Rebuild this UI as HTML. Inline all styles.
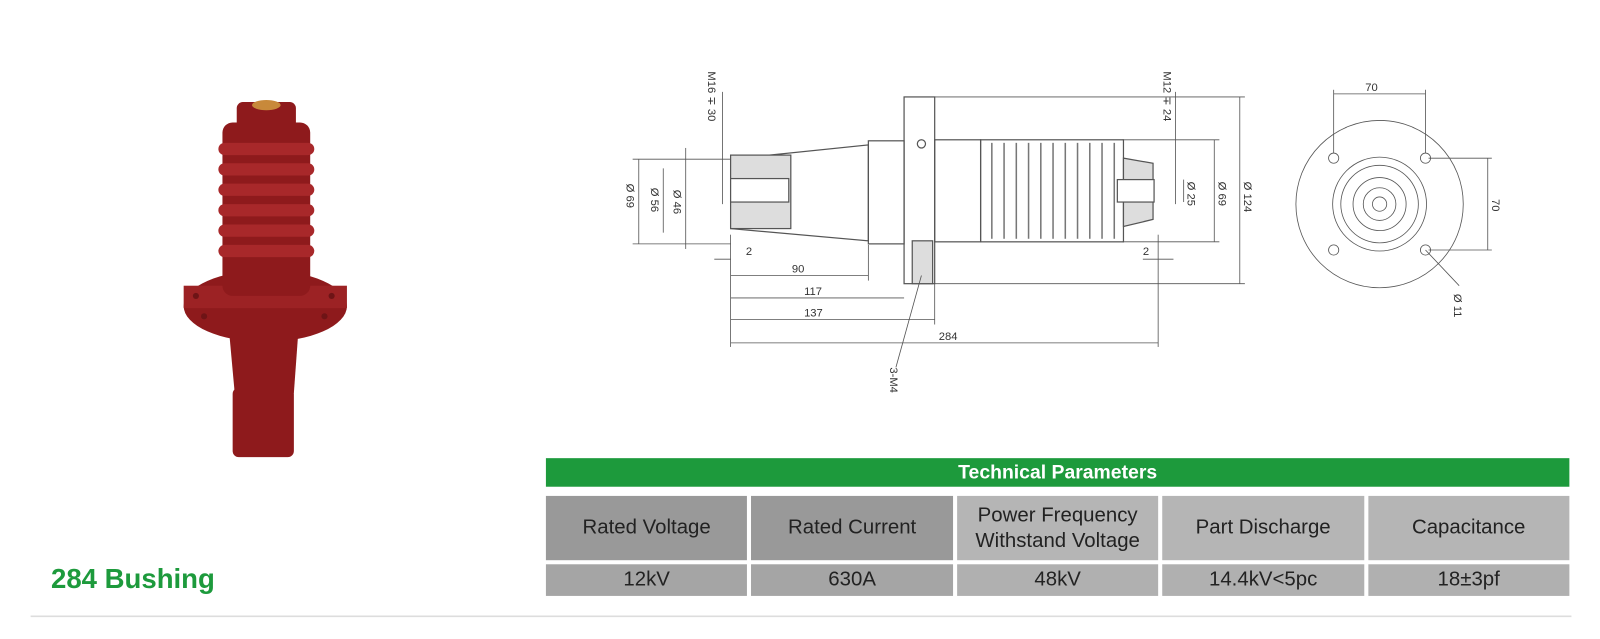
<!DOCTYPE html>
<html><head><style>
body{margin:0;width:1600px;height:639px;background:#fff;overflow:hidden;position:relative;font-family:"Liberation Sans",sans-serif}
#w{position:absolute;left:0;top:0;width:1568px;height:626px;transform:scale(1.0204);transform-origin:0 0}
.t{position:absolute;left:535px;top:449px;width:1003px}
.hd{height:28px;background:#1d9a3c;color:#fff;font-weight:bold;font-size:19px;text-align:center;line-height:30px}
.row{display:flex;gap:4px;margin-top:4px}
.c{width:197.8px;display:flex;align-items:center;justify-content:center;text-align:center;color:#222;font-size:20px;line-height:25px}
</style></head><body><div id="w">
<svg width="1568" height="626" style="position:absolute;left:0;top:0">
<g fill="#8e1a1c">
<rect x="228" y="380" width="60" height="68" rx="6"/>
<polygon points="225,330 292,330 288,385 230,385"/>
<ellipse cx="260" cy="300" rx="80" ry="35"/>
<rect x="180" y="280" width="160" height="22" fill="#9c2224"/>
<rect x="218" y="120" width="86" height="170" rx="10"/>
<rect x="232" y="100" width="58" height="30" rx="6"/>
</g>
<g fill="#6e1416"><circle cx="192" cy="290" r="3"/><circle cx="325" cy="290" r="3"/><circle cx="200" cy="310" r="3"/><circle cx="318" cy="310" r="3"/></g>
<g fill="#a8282a">
<rect x="214" y="140" width="94" height="12" rx="6"/><rect x="214" y="160" width="94" height="12" rx="6"/>
<rect x="214" y="180" width="94" height="12" rx="6"/><rect x="214" y="200" width="94" height="12" rx="6"/>
<rect x="214" y="220" width="94" height="12" rx="6"/><rect x="214" y="240" width="94" height="12" rx="6"/>
</g>
<ellipse cx="261" cy="103" rx="14" ry="5" fill="#c8893a"/>
<g fill="none" stroke="#555" stroke-width="1.2">
<polygon points="716,156 851,142 851,236 716,224"/>
<rect x="851" y="138" width="35" height="101"/>
<rect x="886" y="95" width="30" height="183"/>
<rect x="916" y="137" width="45" height="100"/>
<rect x="961" y="137" width="140" height="100"/>
<rect x="716" y="152" width="59" height="72" fill="#ddd"/>
<rect x="716" y="175" width="57" height="23" fill="#fff"/>
<rect x="894" y="236" width="20" height="42" fill="#ddd"/>
<path d="M1101,155 L1130,160 L1130,215 L1101,222Z" fill="#ddd"/>
<rect x="1095" y="176" width="36" height="22" fill="#fff"/>
<circle cx="903" cy="141" r="4"/>
</g>
<g stroke="#777" stroke-width="1.5">
<line x1="972" y1="140" x2="972" y2="234"/><line x1="984" y1="140" x2="984" y2="234"/><line x1="996" y1="140" x2="996" y2="234"/>
<line x1="1008" y1="140" x2="1008" y2="234"/><line x1="1020" y1="140" x2="1020" y2="234"/><line x1="1032" y1="140" x2="1032" y2="234"/>
<line x1="1044" y1="140" x2="1044" y2="234"/><line x1="1056" y1="140" x2="1056" y2="234"/><line x1="1068" y1="140" x2="1068" y2="234"/>
<line x1="1080" y1="140" x2="1080" y2="234"/><line x1="1092" y1="140" x2="1092" y2="234"/>
</g>
<g stroke="#555" stroke-width="0.8" fill="none">
<line x1="620" y1="156" x2="716" y2="156"/><line x1="620" y1="239" x2="716" y2="239"/>
<line x1="626" y1="156" x2="626" y2="239"/><line x1="650" y1="165" x2="650" y2="228"/><line x1="672" y1="145" x2="672" y2="244"/>
<line x1="916" y1="95" x2="1220" y2="95"/><line x1="916" y1="278" x2="1220" y2="278"/>
<line x1="1215" y1="95" x2="1215" y2="278"/><line x1="1190" y1="137" x2="1190" y2="237"/>
<line x1="1100" y1="137" x2="1195" y2="137"/><line x1="1100" y1="237" x2="1195" y2="237"/>
<line x1="1160" y1="176" x2="1160" y2="198"/>
<line x1="716" y1="230" x2="716" y2="340"/><line x1="1135" y1="230" x2="1135" y2="340"/>
<line x1="851" y1="240" x2="851" y2="275"/><line x1="916" y1="278" x2="916" y2="318"/>
<line x1="716" y1="270" x2="851" y2="270"/><line x1="716" y1="292" x2="886" y2="292"/>
<line x1="716" y1="313" x2="916" y2="313"/><line x1="716" y1="336" x2="1135" y2="336"/>
<line x1="700" y1="254" x2="716" y2="254"/><line x1="1120" y1="254" x2="1150" y2="254"/>
<line x1="903" y1="270" x2="878" y2="360"/>
<line x1="708" y1="90" x2="708" y2="200"/><line x1="1152" y1="90" x2="1152" y2="200"/>
<circle cx="1352" cy="200" r="82"/><circle cx="1352" cy="200" r="46"/><circle cx="1352" cy="200" r="38"/>
<circle cx="1352" cy="200" r="26"/><circle cx="1352" cy="200" r="16"/><circle cx="1352" cy="200" r="7"/>
<circle cx="1307" cy="155" r="5"/><circle cx="1397" cy="155" r="5"/><circle cx="1307" cy="245" r="5"/><circle cx="1397" cy="245" r="5"/>
<line x1="1307" y1="92" x2="1397" y2="92"/><line x1="1307" y1="88" x2="1307" y2="150"/><line x1="1397" y1="88" x2="1397" y2="150"/>
<line x1="1458" y1="155" x2="1458" y2="245"/><line x1="1400" y1="155" x2="1462" y2="155"/><line x1="1400" y1="245" x2="1462" y2="245"/>
<line x1="1397" y1="245" x2="1430" y2="280"/>
</g>
<g font-size="11" fill="#333" font-family="Liberation Sans">
<text x="731" y="250">2</text><text x="776" y="267">90</text><text x="788" y="289">117</text><text x="788" y="310">137</text>
<text x="920" y="333">284</text><text x="1120" y="250">2</text><text x="1338" y="89">70</text>
<text transform="translate(614,180) rotate(90)">Ø 69</text><text transform="translate(638,184) rotate(90)">Ø 56</text>
<text transform="translate(660,186) rotate(90)">Ø 46</text><text transform="translate(1164,178) rotate(90)">Ø 25</text>
<text transform="translate(1194,178) rotate(90)">Ø 69</text><text transform="translate(1219,178) rotate(90)">Ø 124</text>
<text transform="translate(694,70) rotate(90)">M16 ∓ 30</text><text transform="translate(1140,70) rotate(90)">M12 ∓ 24</text>
<text transform="translate(872,360) rotate(90)">3-M4</text><text transform="translate(1462,195) rotate(90)">70</text>
<text transform="translate(1425,288) rotate(90)">Ø 11</text>
</g>
<line x1="30" y1="604" x2="1540" y2="604" stroke="#ddd" stroke-width="1.5"/>
</svg>
<div style="position:absolute;left:50px;top:552px;color:#1d9a3c;font-weight:bold;font-size:27px">284 Bushing</div>
<div class="t">
<div class="hd">Technical Parameters</div>
<div class="row" style="height:63px;margin-top:9px">
<div class="c" style="background:#999">Rated Voltage</div><div class="c" style="background:#999">Rated Current</div>
<div class="c" style="background:#b5b5b5">Power Frequency<br>Withstand Voltage</div><div class="c" style="background:#b5b5b5">Part Discharge</div><div class="c" style="background:#b5b5b5">Capacitance</div>
</div>
<div class="row" style="height:31px">
<div class="c" style="background:#a5a5a5">12kV</div><div class="c" style="background:#a5a5a5">630A</div>
<div class="c" style="background:#b0b0b0">48kV</div><div class="c" style="background:#b0b0b0">14.4kV&lt;5pc</div><div class="c" style="background:#b0b0b0">18±3pf</div>
</div>
</div>
</div></body></html>
